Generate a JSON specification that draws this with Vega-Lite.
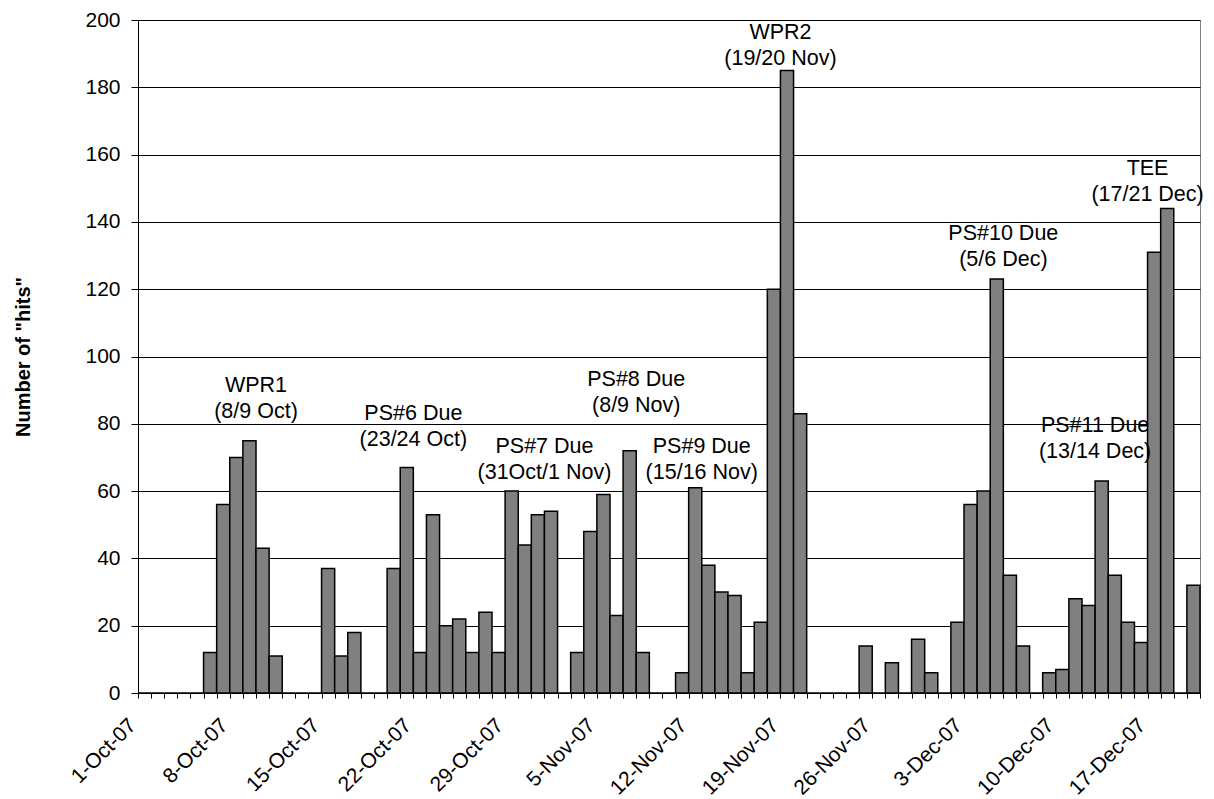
{
  "$schema": "https://vega.github.io/schema/vega-lite/v6.json",
  "width": 1062,
  "height": 673,
  "autosize": "none",
  "padding": {"left": 138, "top": 20, "right": 14, "bottom": 106},
  "background": "white",
  "config": {
    "view": {"stroke": "#808080", "strokeWidth": 1},
    "font": "Liberation Sans"
  },
  "datasets": {
    "daily": [
      {"day": "1-Oct-07", "hits": 0}, {"day": "2-Oct-07", "hits": 0}, {"day": "3-Oct-07", "hits": 0},
      {"day": "4-Oct-07", "hits": 0}, {"day": "5-Oct-07", "hits": 0}, {"day": "6-Oct-07", "hits": 12},
      {"day": "7-Oct-07", "hits": 56}, {"day": "8-Oct-07", "hits": 70}, {"day": "9-Oct-07", "hits": 75},
      {"day": "10-Oct-07", "hits": 43}, {"day": "11-Oct-07", "hits": 11}, {"day": "12-Oct-07", "hits": 0},
      {"day": "13-Oct-07", "hits": 0}, {"day": "14-Oct-07", "hits": 0}, {"day": "15-Oct-07", "hits": 37},
      {"day": "16-Oct-07", "hits": 11}, {"day": "17-Oct-07", "hits": 18}, {"day": "18-Oct-07", "hits": 0},
      {"day": "19-Oct-07", "hits": 0}, {"day": "20-Oct-07", "hits": 37}, {"day": "21-Oct-07", "hits": 67},
      {"day": "22-Oct-07", "hits": 12}, {"day": "23-Oct-07", "hits": 53}, {"day": "24-Oct-07", "hits": 20},
      {"day": "25-Oct-07", "hits": 22}, {"day": "26-Oct-07", "hits": 12}, {"day": "27-Oct-07", "hits": 24},
      {"day": "28-Oct-07", "hits": 12}, {"day": "29-Oct-07", "hits": 60}, {"day": "30-Oct-07", "hits": 44},
      {"day": "31-Oct-07", "hits": 53}, {"day": "1-Nov-07", "hits": 54}, {"day": "2-Nov-07", "hits": 0},
      {"day": "3-Nov-07", "hits": 12}, {"day": "4-Nov-07", "hits": 48}, {"day": "5-Nov-07", "hits": 59},
      {"day": "6-Nov-07", "hits": 23}, {"day": "7-Nov-07", "hits": 72}, {"day": "8-Nov-07", "hits": 12},
      {"day": "9-Nov-07", "hits": 0}, {"day": "10-Nov-07", "hits": 0}, {"day": "11-Nov-07", "hits": 6},
      {"day": "12-Nov-07", "hits": 61}, {"day": "13-Nov-07", "hits": 38}, {"day": "14-Nov-07", "hits": 30},
      {"day": "15-Nov-07", "hits": 29}, {"day": "16-Nov-07", "hits": 6}, {"day": "17-Nov-07", "hits": 21},
      {"day": "18-Nov-07", "hits": 120}, {"day": "19-Nov-07", "hits": 185}, {"day": "20-Nov-07", "hits": 83},
      {"day": "21-Nov-07", "hits": 0}, {"day": "22-Nov-07", "hits": 0}, {"day": "23-Nov-07", "hits": 0},
      {"day": "24-Nov-07", "hits": 0}, {"day": "25-Nov-07", "hits": 14}, {"day": "26-Nov-07", "hits": 0},
      {"day": "27-Nov-07", "hits": 9}, {"day": "28-Nov-07", "hits": 0}, {"day": "29-Nov-07", "hits": 16},
      {"day": "30-Nov-07", "hits": 6}, {"day": "1-Dec-07", "hits": 0}, {"day": "2-Dec-07", "hits": 21},
      {"day": "3-Dec-07", "hits": 56}, {"day": "4-Dec-07", "hits": 60}, {"day": "5-Dec-07", "hits": 123},
      {"day": "6-Dec-07", "hits": 35}, {"day": "7-Dec-07", "hits": 14}, {"day": "8-Dec-07", "hits": 0},
      {"day": "9-Dec-07", "hits": 6}, {"day": "10-Dec-07", "hits": 7}, {"day": "11-Dec-07", "hits": 28},
      {"day": "12-Dec-07", "hits": 26}, {"day": "13-Dec-07", "hits": 63}, {"day": "14-Dec-07", "hits": 35},
      {"day": "15-Dec-07", "hits": 21}, {"day": "16-Dec-07", "hits": 15}, {"day": "17-Dec-07", "hits": 131},
      {"day": "18-Dec-07", "hits": 144}, {"day": "19-Dec-07", "hits": 0}, {"day": "20-Dec-07", "hits": 32}
    ],
    "events": [
      {"day": "10-Oct-07", "at": 89.4, "label": "WPR1\n(8/9 Oct)"},
      {"day": "22-Oct-07", "at": 81.2, "label": "PS#6 Due\n(23/24 Oct)"},
      {"day": "1-Nov-07", "at": 71.3, "label": "PS#7 Due\n(31Oct/1 Nov)"},
      {"day": "8-Nov-07", "at": 91.2, "label": "PS#8 Due\n(8/9 Nov)"},
      {"day": "13-Nov-07", "at": 71.2, "label": "PS#9 Due\n(15/16 Nov)"},
      {"day": "19-Nov-07", "at": 194.4, "label": "WPR2\n(19/20 Nov)"},
      {"day": "6-Dec-07", "at": 134.5, "label": "PS#10 Due\n(5/6 Dec)"},
      {"day": "13-Dec-07", "at": 77.6, "label": "PS#11 Due\n(13/14 Dec)"},
      {"day": "17-Dec-07", "at": 153.8, "label": "TEE\n(17/21 Dec)"}
    ]
  },
  "layer": [
    {
      "data": {"name": "daily"},
      "mark": {"type": "bar", "fill": "#808080", "stroke": "#000000", "strokeWidth": 1.5},
      "encoding": {
        "x": {
          "field": "day",
          "type": "ordinal",
          "sort": null,
          "title": null,
          "scale": {"paddingInner": 0, "paddingOuter": 0},
          "axis": {
            "tickBand": "extent",
            "tickSize": 5,
            "tickColor": "#000000",
            "domainColor": "#000000",
            "labelAngle": -45,
            "labelAlign": "right",
            "labelBaseline": "middle",
            "labelOffset": -12,
            "labelPadding": 24,
            "labelFontSize": 21,
            "labelColor": "#000000",
            "labelOverlap": false,
            "labelBound": false,
            "labelFlush": false,
            "labelExpr": "indexof(['1-Oct-07','8-Oct-07','15-Oct-07','22-Oct-07','29-Oct-07','5-Nov-07','12-Nov-07','19-Nov-07','26-Nov-07','3-Dec-07','10-Dec-07','17-Dec-07'], datum.value) >= 0 ? datum.value : ''"
          }
        },
        "y": {
          "field": "hits",
          "type": "quantitative",
          "title": "Number of \"hits\"",
          "scale": {"domain": [0, 200], "nice": false},
          "axis": {
            "values": [0, 20, 40, 60, 80, 100, 120, 140, 160, 180, 200],
            "grid": true,
            "gridColor": "#000000",
            "gridWidth": 1,
            "tickSize": 7,
            "tickColor": "#000000",
            "domainColor": "#000000",
            "labelFontSize": 21,
            "labelPadding": 11,
            "labelColor": "#000000",
            "titleFontSize": 20,
            "titleFontWeight": "bold",
            "titleColor": "#000000",
            "titleAngle": -90,
            "titleAlign": "center",
            "titleBaseline": "middle",
            "titleX": -115,
            "titleY": 336.5
          }
        }
      }
    },
    {
      "data": {"name": "events"},
      "mark": {
        "type": "text",
        "lineBreak": "\n",
        "align": "center",
        "baseline": "alphabetic",
        "fontSize": 21.5,
        "lineHeight": 26,
        "color": "#000000"
      },
      "encoding": {
        "x": {"field": "day", "type": "ordinal", "sort": null, "bandPosition": 0, "title": null},
        "y": {"field": "at", "type": "quantitative", "title": "Number of \"hits\""},
        "text": {"field": "label"}
      }
    }
  ]
}
